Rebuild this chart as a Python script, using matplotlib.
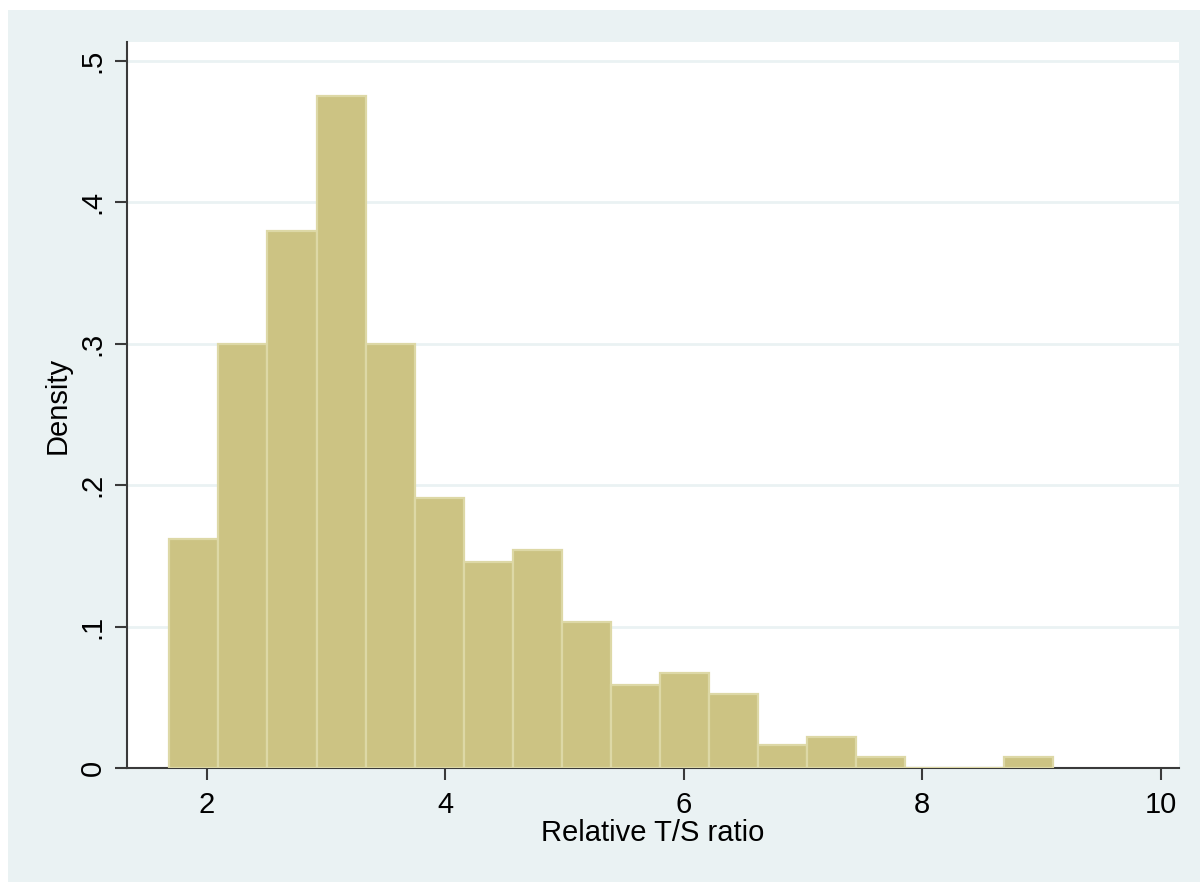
#!/usr/bin/env python3
"""Histogram of relative T/S ratio (Stata s2color look)."""

import numpy as np
import matplotlib
matplotlib.use('Agg')
import matplotlib.pyplot as plt
from matplotlib.patches import Rectangle

# Bin layout and density heights
bin_start = 1.684
bin_width = 0.4117
densities = [0.162, 0.300, 0.380, 0.475, 0.300, 0.191, 0.146, 0.154, 0.103,
             0.059, 0.067, 0.052, 0.016, 0.022, 0.008, 0.0, 0.0, 0.008]
x_ticks = [2, 4, 6, 8, 10]
y_ticks = [0, 0.1, 0.2, 0.3, 0.4, 0.5]
y_tick_labels = ['0', '.1', '.2', '.3', '.4', '.5']

BG = '#EAF2F3'
BAR = '#CCC383'
BAR_EDGE = '#DDD8A6'
AXIS = '#3A3A3A'

plt.rcParams['font.family'] = ['Liberation Sans', 'DejaVu Sans']

fig = plt.figure(figsize=(12, 8.82), dpi=100, facecolor='white')
# outer graph region
fig.patches.append(Rectangle((8 / 1200, 0), 1 - 8 / 1200, 1 - 10 / 882,
                             transform=fig.transFigure, facecolor=BG,
                             edgecolor='none', zorder=-10))

ax = fig.add_axes([127 / 1200, 1 - 768 / 882, (1179 - 127) / 1200, (768 - 42) / 882])
ax.set_facecolor('white')

edges = bin_start + bin_width * np.arange(len(densities))
ax.bar(edges, densities, width=bin_width, align='edge', color=BAR,
       edgecolor=BAR_EDGE, linewidth=1.6, zorder=3)

ax.set_xlim(1.329, 10.154)
ax.set_ylim(0, 0.5134)

ax.set_yticks(y_ticks)
ax.set_yticklabels(y_tick_labels)
ax.set_xticks(x_ticks)
for t in ax.get_yticklabels():
    t.set_rotation(90)
    t.set_va('center')

ax.grid(axis='y', color=BG, linewidth=2, zorder=0)
ax.set_axisbelow(True)

for side in ['top', 'right']:
    ax.spines[side].set_visible(False)
for side in ['left', 'bottom']:
    ax.spines[side].set_color(AXIS)
    ax.spines[side].set_linewidth(1.5)

ax.tick_params(axis='both', colors=AXIS, length=8.5, width=1.5,
               labelsize=21, labelcolor='black')
ax.tick_params(axis='x', pad=8)
ax.tick_params(axis='y', pad=6)

ax.set_xlabel('Relative T/S ratio', fontsize=21, labelpad=0)
ax.set_ylabel('Density', fontsize=21, labelpad=5)

plt.savefig('out.png', dpi=100, facecolor=fig.get_facecolor())
